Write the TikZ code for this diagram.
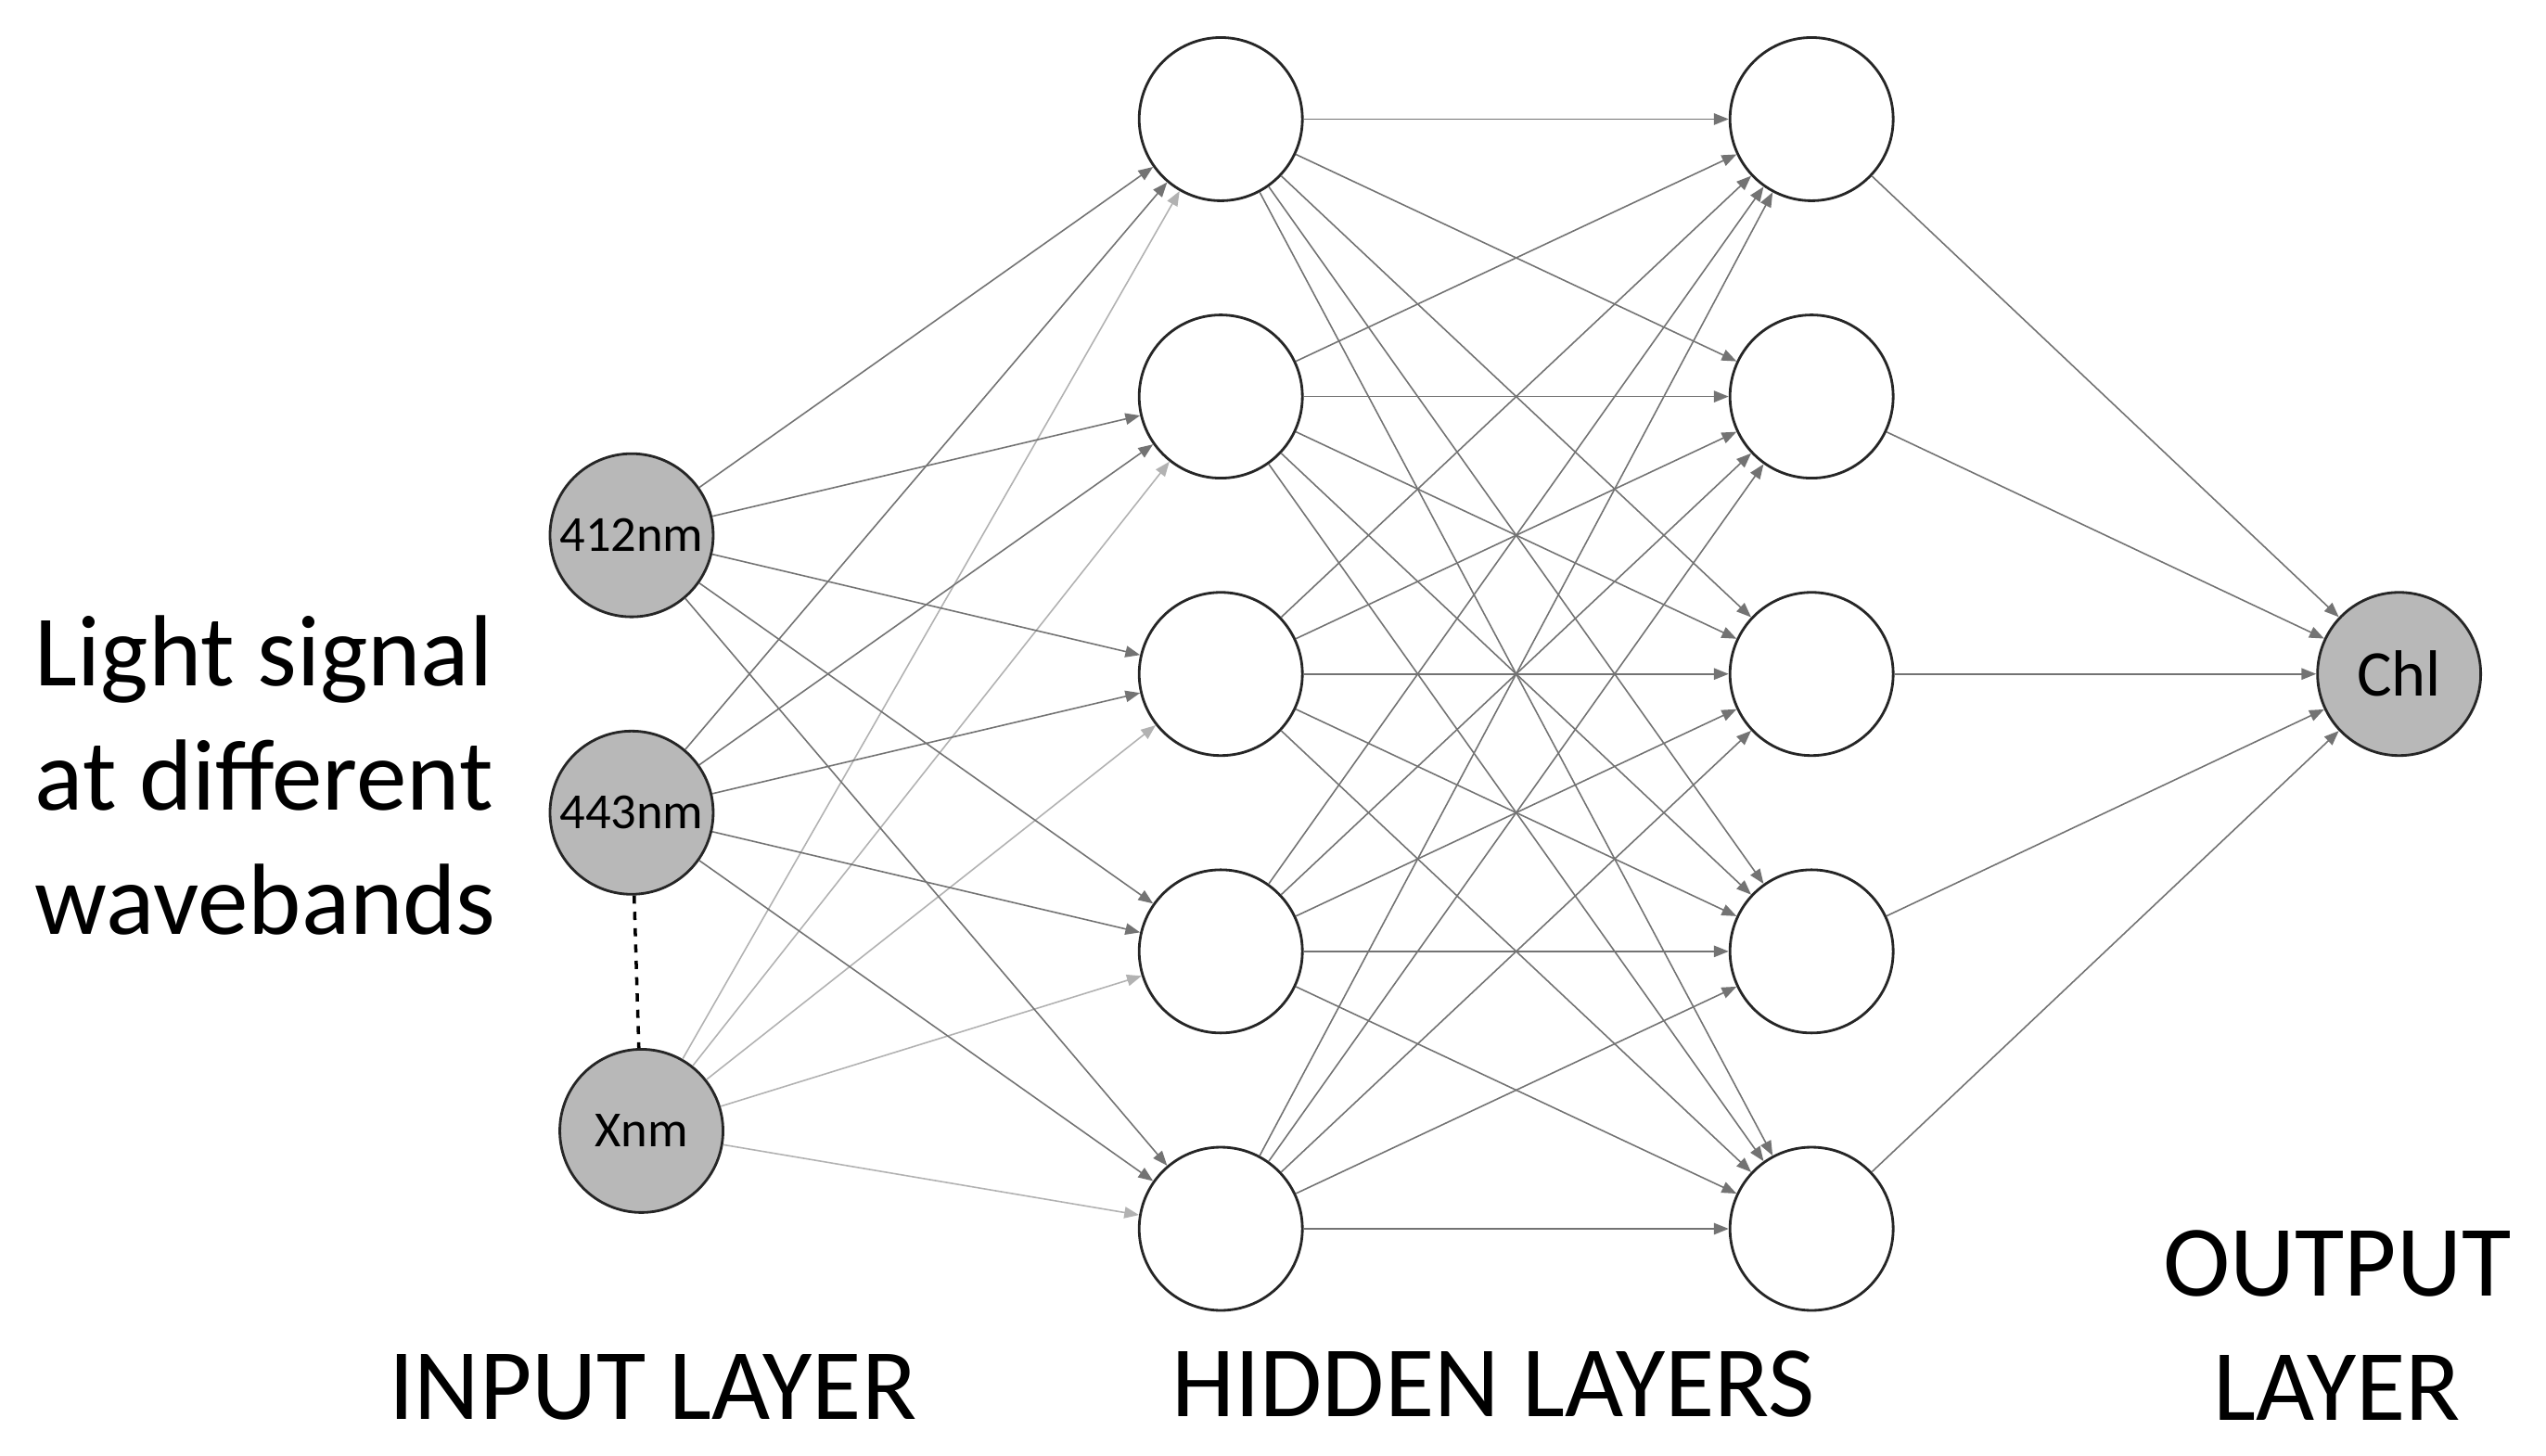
\documentclass[tikz,border=0pt]{standalone}
\usepackage{fontspec}
\setmainfont{Carlito}
\usetikzlibrary{arrows.meta}
\begin{document}
\begin{tikzpicture}[x=1pt,y=-1pt,
 neu/.style={circle,draw=black!85,line width=1.6pt,minimum size=100pt,inner sep=0pt},
 inp/.style={neu,fill=black!28,font=\fontsize{31}{33}\selectfont},
 ed/.style={draw=black!55,line width=0.9pt,-{Triangle[length=9pt,width=7pt]}},
 edl/.style={ed,draw=black!30},
 lab/.style={font=\fontsize{62}{76}\selectfont,align=center}]
\useasboundingbox (0,0) rectangle (1560,891.7);
\node[inp] (i1) at (387,328) {412nm};
\node[inp] (i2) at (387,498) {443nm};
\node[inp] (i3) at (393,693) {Xnm};
\foreach \k/\y in {1/73,2/243,3/413,4/583,5/753}{
 \node[neu] (a\k) at (748,\y) {};
 \node[neu] (b\k) at (1110,\y) {};}
\node[inp,font=\fontsize{40}{42}\selectfont] (o) at (1470,413) {Chl};
\foreach \k in {1,...,5}{
 \draw[ed] (i1) -- (a\k);
 \draw[ed] (i2) -- (a\k);
 \draw[edl] (i3) -- (a\k);
 \foreach \j in {1,...,5}{\draw[ed] (a\k) -- (b\j);}
 \draw[ed] (b\k) -- (o);}
\draw[line width=2pt,dash pattern=on 5pt off 5pt] (i2) -- (i3);
\node[lab,align=left,anchor=west] (t) at (18,475) {Light signal\\at different\\wavebands};
\node[lab] (l1) at (400,850) {INPUT LAYER};
\node[lab] (l2) at (915,848) {HIDDEN LAYERS};
\node[lab] (l3) at (1432,812) {OUTPUT\\LAYER};
\end{tikzpicture}
\end{document}
